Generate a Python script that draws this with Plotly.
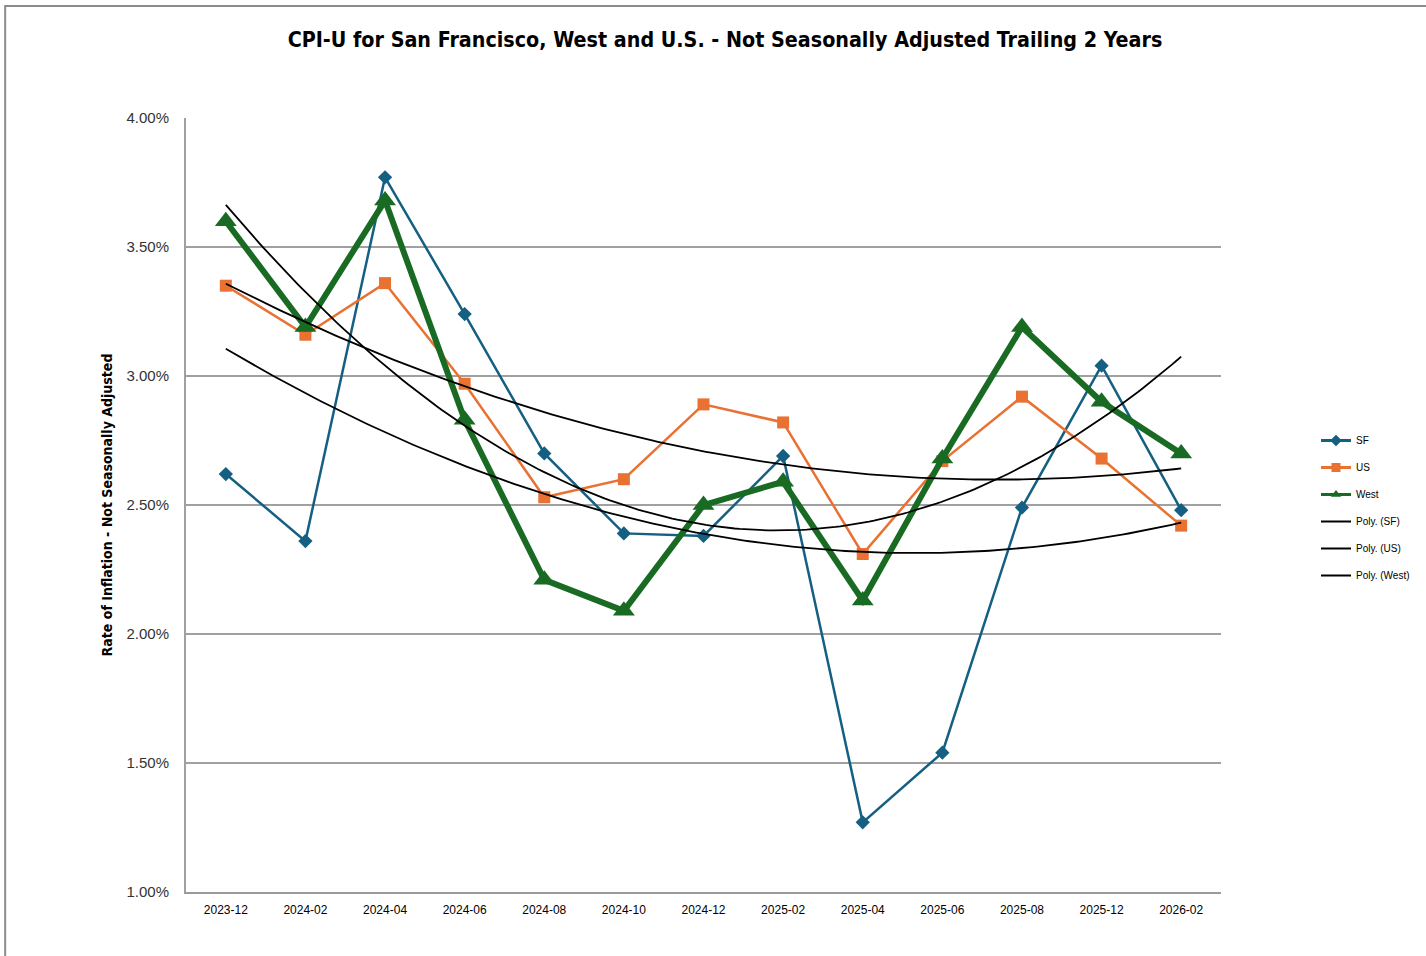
import numpy as np
import plotly.graph_objects as go

months = ["2023-12", "2024-02", "2024-04", "2024-06", "2024-08", "2024-10", "2024-12",
          "2025-02", "2025-04", "2025-06", "2025-08", "2025-12", "2026-02"]
sf = [2.62, 2.36, 3.77, 3.24, 2.70, 2.39, 2.38, 2.69, 1.27, 1.54, 2.49, 3.04, 2.48]
us = [3.35, 3.16, 3.36, 2.97, 2.53, 2.60, 2.89, 2.82, 2.31, 2.67, 2.92, 2.68, 2.42]
west = [3.60, 3.19, 3.68, 2.83, 2.21, 2.09, 2.50, 2.59, 2.13, 2.68, 3.19, 2.90, 2.70]
y_ticks = [1.0, 1.5, 2.0, 2.5, 3.0, 3.5, 4.0]

SF_C, US_C, WEST_C = "#156082", "#E97132", "#196B24"
NARROW = "DejaVu Sans Condensed, Liberation Sans Narrow, sans-serif"
ARIAL = "Arial, Liberation Sans, sans-serif"

x = np.arange(len(months))
xf = np.linspace(0, len(months) - 1, 200)

fig = go.Figure()
series = [("SF", sf, SF_C, "diamond", 11, 2.5, 9),
          ("US", us, US_C, "square", 12, 2.5, 9),
          ("West", west, WEST_C, "triangle-up", 19, 6, 9)]
for nm, ser, col, sym, msz, lw, lmsz in series:
    fig.add_trace(go.Scatter(x=x, y=ser, name=nm, mode="lines+markers", showlegend=False,
                             line=dict(color=col, width=lw),
                             marker=dict(symbol=sym, size=msz, color=col)))
trend_names = ["Poly. (SF)", "Poly. (US)", "Poly. (West)"]
for nm, (_, ser, *_r) in zip(trend_names, series):
    c = np.polyfit(x + 1, ser, 2)
    fig.add_trace(go.Scatter(x=xf, y=np.polyval(c, xf + 1), name=nm, mode="lines",
                             showlegend=False,
                             line=dict(color="black", width=1.8), hoverinfo="skip"))

# legend-only entries (sized like the reference legend)
for i, (nm, ser, col, sym, msz, lw, lmsz) in enumerate(series):
    fig.add_trace(go.Scatter(x=[None], y=[None], name=nm, mode="lines+markers",
                             legendgroup="g%d" % i, line=dict(color=col, width=3),
                             marker=dict(symbol=sym, size=lmsz, color=col)))
for i, nm in enumerate(trend_names):
    fig.add_trace(go.Scatter(x=[None], y=[None], name=nm, mode="lines",
                             legendgroup="t%d" % i, line=dict(color="black", width=2)))

W, H = 1426, 956
L, R, T, B = 186, 1222, 118, 892


def px(v):
    return (v - L) / (R - L)


def py(v):
    return (B - v) / (B - T)


fig.update_layout(
    width=W, height=H, autosize=False,
    margin=dict(l=L, r=W - R, t=T, b=H - B),
    paper_bgcolor="white", plot_bgcolor="white",
    title=dict(text="<b>CPI-U for San Francisco, West and U.S. - Not Seasonally Adjusted Trailing 2 Years</b>",
               x=725 / W, xanchor="center", y=1 - 40 / H, yanchor="middle",
               font=dict(family=NARROW, size=21.3, color="black")),
    showlegend=True,
    legend=dict(x=px(1316), xanchor="left", y=py(508), yanchor="middle",
                font=dict(family=ARIAL, size=10, color="black"),
                tracegroupgap=8, itemwidth=30, bgcolor="rgba(0,0,0,0)"),
    shapes=[dict(type="rect", xref="paper", yref="paper",
                 x0=px(5), x1=px(1440), y0=py(970), y1=py(6),
                 line=dict(color="#8c8c8c", width=2), fillcolor="rgba(0,0,0,0)", layer="below")],
)
fig.update_xaxes(range=[-0.5, len(months) - 0.5], tickvals=list(x), ticktext=months,
                 showgrid=False, zeroline=False, showline=True, linecolor="#9a9a9a", linewidth=2,
                 ticks="", ticklabelstandoff=6,
                 tickfont=dict(family=ARIAL, size=12, color="black"))
fig.update_yaxes(range=[1.0, 4.0], tickvals=y_ticks, ticktext=[f"{v:.2f}%" for v in y_ticks],
                 showgrid=True, gridcolor="#a0a0a0", gridwidth=2, zeroline=False,
                 showline=True, linecolor="#a0a0a0", linewidth=2, ticks="", ticklabelstandoff=12,
                 tickfont=dict(family=ARIAL, size=15, color="#333333"),
                 title=dict(text="<b>Rate of Inflation - Not Seasonally Adjusted</b>", standoff=11,
                            font=dict(family=NARROW, size=14, color="black")))

fig.write_html("out.html", config={"responsive": False, "displayModeBar": False},
               post_script="document.body.style.margin='0';document.body.style.overflow='hidden';")
